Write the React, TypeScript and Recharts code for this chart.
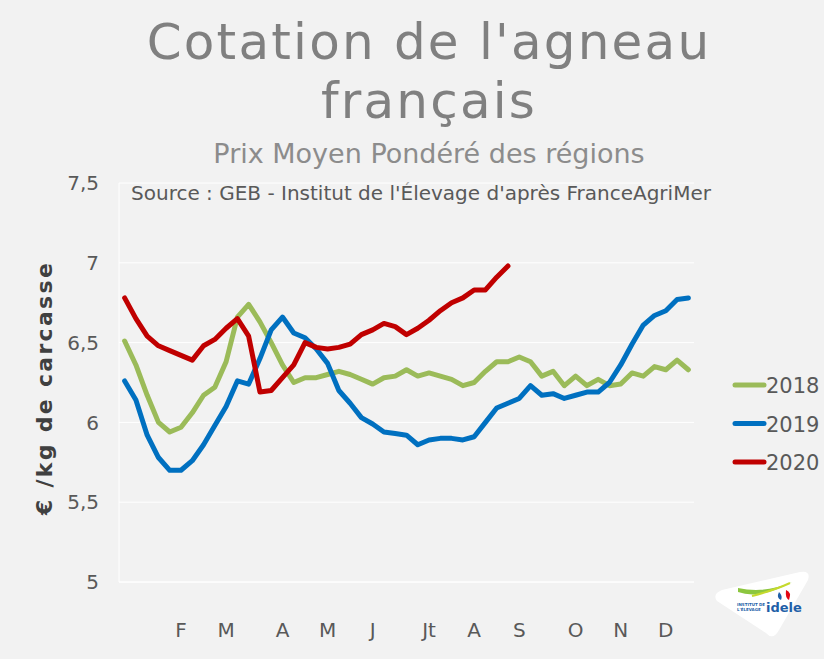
import React from "react";
import { LineChart, Line, XAxis, YAxis, CartesianGrid } from "recharts";

const monthLabels = ["F", "M", "A", "M", "J", "Jt", "A", "S", "O", "N", "D"];
const monthWeeks = [5, 9, 14, 18, 22, 27, 31, 35, 40, 44, 48];
const yTicks = [5, 5.5, 6, 6.5, 7, 7.5];

const series2018 = [
  6.51, 6.36, 6.17, 6.0, 5.94, 5.97, 6.06, 6.17, 6.22, 6.38,
  6.66, 6.74, 6.63, 6.5, 6.36, 6.25, 6.28, 6.28, 6.3, 6.32,
  6.3, 6.27, 6.24, 6.28, 6.29, 6.33, 6.29, 6.31, 6.29, 6.27,
  6.23, 6.25, 6.32, 6.38, 6.38, 6.41, 6.38, 6.29, 6.32, 6.23,
  6.29, 6.23, 6.27, 6.23, 6.24, 6.31, 6.29, 6.35, 6.33, 6.39,
  6.33,
];
const series2019 = [
  6.26, 6.14, 5.92, 5.78, 5.7, 5.7, 5.76, 5.86, 5.98, 6.1,
  6.26, 6.24, 6.4, 6.58, 6.66, 6.56, 6.53, 6.46, 6.37, 6.2,
  6.12, 6.03, 5.99, 5.94, 5.93, 5.92, 5.86, 5.89, 5.9, 5.9,
  5.89, 5.91, 6.0, 6.09, 6.12, 6.15, 6.23, 6.17, 6.18, 6.15,
  6.17, 6.19, 6.19, 6.25, 6.36, 6.49, 6.61, 6.67, 6.7, 6.77,
  6.78,
];
const series2020 = [
  6.78, 6.65, 6.54, 6.48, 6.45, 6.42, 6.39, 6.48, 6.52, 6.59,
  6.65, 6.54, 6.19, 6.2, 6.28, 6.36, 6.5, 6.47, 6.46, 6.47,
  6.49, 6.55, 6.58, 6.62, 6.6, 6.55, 6.59, 6.64, 6.7, 6.75,
  6.78, 6.83, 6.83, 6.91, 6.98,
];

const seriesDefs = [
  { key: "y2018", name: "2018", color: "#9bbb59" },
  { key: "y2019", name: "2019", color: "#0070c0" },
  { key: "y2020", name: "2020", color: "#c00000" },
];

const data = series2018.map((v, i) => ({
  week: i,
  y2018: v,
  y2019: series2019[i],
  y2020: i < series2020.length ? series2020[i] : null,
}));

const boundaryTicks = data.map((d) => d.week - 0.5).concat([data.length - 0.5]);

const fmtY = (v: number) => String(v).replace(".", ",");

const FONT = "DejaVu Sans, sans-serif";

const MonthTick = (props: any) => {
  const { x, y, payload } = props;
  const idx = monthWeeks.indexOf(payload.value);
  return (
    <text x={x} y={y + 37} textAnchor="middle" fill="#595959" fontSize={20} fontFamily={FONT}>
      {idx >= 0 ? monthLabels[idx] : ""}
    </text>
  );
};

export default function App() {
  return (
    <div
      style={{
        position: "absolute",
        left: 0,
        top: 0,
        width: 824,
        height: 659,
        background: "#f2f2f2",
        overflow: "hidden",
      }}
    >
      <svg width={824} height={659} style={{ position: "absolute", left: 0, top: 0 }}>
        <text x={429} y={59} textAnchor="middle" fill="#808080" fontSize={50} letterSpacing={2.2} fontFamily={FONT}>
          Cotation de l'agneau
        </text>
        <text x={429} y={118} textAnchor="middle" fill="#808080" fontSize={50} letterSpacing={2.2} fontFamily={FONT}>
          français
        </text>
        <text x={429} y={163} textAnchor="middle" fill="#8c8c8c" fontSize={27} fontFamily={FONT}>
          Prix Moyen Pondéré des régions
        </text>
        <text x={421} y={200} textAnchor="middle" fill="#595959" fontSize={20} fontFamily={FONT}>
          Source : GEB - Institut de l'Élevage d'après FranceAgriMer
        </text>
        <text
          x={0}
          y={0}
          transform="translate(52,388) rotate(-90)"
          textAnchor="middle"
          fill="#404040"
          fontSize={22}
          letterSpacing={2.3}
          fontWeight="bold"
          fontFamily={FONT}
        >
          € /kg de carcasse
        </text>
      </svg>
      <div style={{ position: "absolute", left: 0, top: 0 }}>
        <LineChart width={824} height={659} data={data} margin={{ top: 183, right: 130, bottom: 7, left: 59 }}>
          <CartesianGrid vertical={false} stroke="#ffffff" strokeWidth={1} xAxisId="grid" />
          <XAxis
            xAxisId="grid"
            dataKey="week"
            type="number"
            domain={[-0.5, data.length - 0.5]}
            ticks={boundaryTicks}
            interval={0}
            tick={false}
            tickSize={7}
            stroke="#ffffff"
            axisLine={{ stroke: "#ffffff" }}
            tickLine={{ stroke: "#ffffff" }}
            height={10}
          />
          <XAxis
            xAxisId="months"
            dataKey="week"
            type="number"
            domain={[-0.5, data.length - 0.5]}
            ticks={monthWeeks}
            interval={0}
            tick={<MonthTick />}
            axisLine={false}
            tickLine={false}
            height={60}
          />
          <YAxis
            domain={[5, 7.5]}
            ticks={yTicks}
            interval={0}
            tickFormatter={fmtY}
            width={60}
            axisLine={{ stroke: "#ffffff" }}
            tickLine={false}
            tickMargin={14}
            tick={{ fill: "#595959", fontSize: 20, fontFamily: FONT }}
          />
          {seriesDefs.map((s) => (
            <Line
              key={s.key}
              xAxisId="grid"
              dataKey={s.key}
              name={s.name}
              type="linear"
              stroke={s.color}
              strokeWidth={5}
              strokeLinejoin="round"
              strokeLinecap="round"
              dot={false}
              activeDot={false}
              isAnimationActive={false}
            />
          ))}
        </LineChart>
      </div>
      <svg width={824} height={659} style={{ position: "absolute", left: 0, top: 0, pointerEvents: "none" }}>
        {seriesDefs.map((s, i) => (
          <g key={s.key}>
            <line
              x1={735}
              x2={764}
              y1={385 + i * 38.5}
              y2={385 + i * 38.5}
              stroke={s.color}
              strokeWidth={5}
              strokeLinecap="round"
            />
            <text x={766} y={393 + i * 38.5} fill="#595959" fontSize={21} fontFamily={FONT}>
              {s.name}
            </text>
          </g>
        ))}
        <path
          d="M717 601 Q712 594 722 590 L800 572 Q811 570 808 580 L779 630 Q773 641 766 633 Z"
          fill="#ffffff"
        />
        <path d="M738 592 Q760 600 792 582 Q765 594 738 588 Z" fill="#8cc63f" />
        <path d="M752 596 Q775 590 790 583" stroke="#c5d92d" strokeWidth={2} fill="none" />
        <path d="M786 590 Q792 592 789 600 Q785 598 786 590 Z" fill="#e30613" />
        <path d="M779 592 Q776 598 781 600 Q783 596 779 592 Z" fill="#1f5fa8" />
        <text x={737} y={606} fill="#1f5fa8" fontSize={4} fontWeight="bold" fontFamily={FONT}>
          INSTITUT DE
        </text>
        <text x={737} y={611} fill="#1f5fa8" fontSize={4} fontWeight="bold" fontFamily={FONT}>
          L'ÉLEVAGE
        </text>
        <text x={766} y={612} fill="#1f5fa8" fontSize={13} fontWeight="bold" fontFamily={FONT}>
          idele
        </text>
      </svg>
    </div>
  );
}
